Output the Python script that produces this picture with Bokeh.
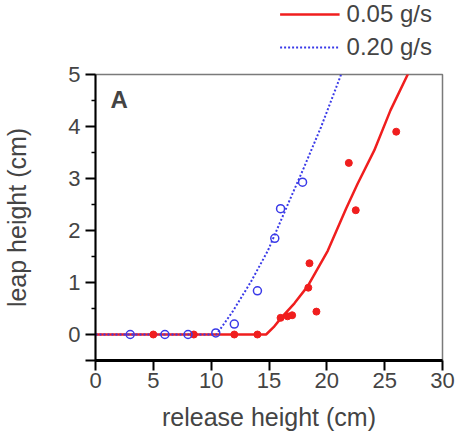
from bokeh.plotting import figure
from bokeh.layouts import column
from bokeh.models import Range1d, FixedTicker, Legend, LegendItem, Label
from bokeh.embed import file_html
from bokeh.resources import INLINE

# measured points
red_x = [5, 8.5, 12, 14, 16, 16.6, 17, 19.1, 18.4, 18.5, 22.5, 21.9, 26]
red_y = [0, 0, 0, 0, 0.32, 0.35, 0.37, 0.44, 0.90, 1.37, 2.39, 3.30, 3.90]
blue_x = [3, 6, 8, 10.4, 12, 14, 15.5, 16, 17.9]
blue_y = [0, 0, 0, 0.03, 0.2, 0.84, 1.85, 2.42, 2.93]

# fitted curves
red_fit_x = [0, 14.75, 15.4, 16.05, 17.2, 18.35, 20.08, 21.66, 22.66, 24.1, 25.5, 27.1]
red_fit_y = [0, 0, 0.14, 0.32, 0.60, 0.93, 1.61, 2.42, 2.90, 3.54, 4.31, 5.05]
blue_fit_x = [0, 10.44, 11.0, 11.88, 13.4, 14.9, 16.76, 18.0, 19.5, 21.15, 21.3]
blue_fit_y = [0, 0, 0.17, 0.45, 1.0, 1.61, 2.57, 3.2, 3.99, 4.95, 5.05]

x_ticks = [0, 5, 10, 15, 20, 25, 30]
y_ticks = [-0.5, 0, 1, 2, 3, 4, 5]
y_minor = [0.5, 1.5, 2.5, 3.5, 4.5]
labels = ["0.05 g/s", "0.20 g/s"]

RED = "#f01e1e"
BLUE = "#3a3ae8"
FONT = "Liberation Sans"

# ---- legend strip above the plot (its view range shows no data; only the legend) ----
lg = figure(width=445, height=62, output_backend="svg", toolbar_location=None,
            x_range=Range1d(100, 101), y_range=Range1d(100, 101),
            x_axis_location=None, y_axis_location=None,
            min_border=0, min_border_left=0, min_border_right=0,
            min_border_top=0, min_border_bottom=0)
lg.grid.visible = False
lg.outline_line_color = None
lg.border_fill_color = "white"
l1 = lg.line(red_fit_x, red_fit_y, line_color=RED, line_width=2.5)
l2 = lg.line(blue_fit_x, blue_fit_y, line_color=BLUE, line_width=2, line_dash="2 2")
legend = Legend(items=[LegendItem(label=labels[0], renderers=[l1]),
                       LegendItem(label=labels[1], renderers=[l2])],
                location="top_right", orientation="vertical")
legend.label_text_font = FONT
legend.label_text_font_size = "24px"
legend.glyph_width = 60
legend.glyph_height = 26
legend.label_height = 26
legend.label_standoff = 7
legend.spacing = 5
legend.padding = 4
legend.margin = 0
legend.border_line_color = None
legend.background_fill_alpha = 0
lg.add_layout(legend)

# ---- main plot ----
p = figure(width=455, height=375, output_backend="svg", toolbar_location=None,
           x_range=Range1d(0, 30), y_range=Range1d(-0.5, 5),
           min_border_left=94, min_border_right=13, min_border_top=12, min_border_bottom=77)
p.grid.visible = False
p.outline_line_color = "#7a7a7a"
p.outline_line_width = 1.5
p.background_fill_color = "white"
p.border_fill_color = "white"

p.line(red_fit_x, red_fit_y, line_color=RED, line_width=2.5)
p.line(blue_fit_x, blue_fit_y, line_color=BLUE, line_width=2, line_dash="2 2")
p.scatter(red_x, red_y, size=7, marker="circle", fill_color=RED, line_color=RED)
p.scatter(blue_x, blue_y, size=8, marker="circle", fill_color=None, line_color=BLUE, line_width=1.5)

p.add_layout(Label(x=1.3, y=4.78, text="A", text_font=FONT, text_font_size="24px",
                   text_font_style="bold", text_baseline="top", text_align="left"))

xa = p.xaxis[0]
xa.ticker = FixedTicker(ticks=x_ticks)
xa.axis_label = "release height (cm)"
ya = p.yaxis[0]
ya.ticker = FixedTicker(ticks=y_ticks, minor_ticks=y_minor)
ya.major_label_overrides = {-0.5: ""}
ya.axis_label = "leap height (cm)"

for ax in (xa, ya):
    ax.axis_label_text_font = FONT
    ax.axis_label_text_font_size = "25px"
    ax.axis_label_text_font_style = "normal"
    ax.major_label_text_font = FONT
    ax.major_label_text_font_size = "22px"
    ax.axis_line_color = "black"
    ax.major_tick_line_color = "black"
    ax.minor_tick_line_color = "black"
    ax.major_tick_in = 0
    ax.major_tick_out = 10
    ax.minor_tick_in = 0
    ax.minor_tick_out = 4
    ax.major_tick_line_width = 2
    ax.minor_tick_line_width = 1.5
xa.axis_line_width = 3
ya.axis_line_width = 2
xa.major_label_standoff = 2
xa.axis_label_standoff = 12
ya.major_label_standoff = 5
ya.axis_label_standoff = 34

layout = column(lg, p, spacing=0)
open("out.html", "w").write(file_html(layout, INLINE))
